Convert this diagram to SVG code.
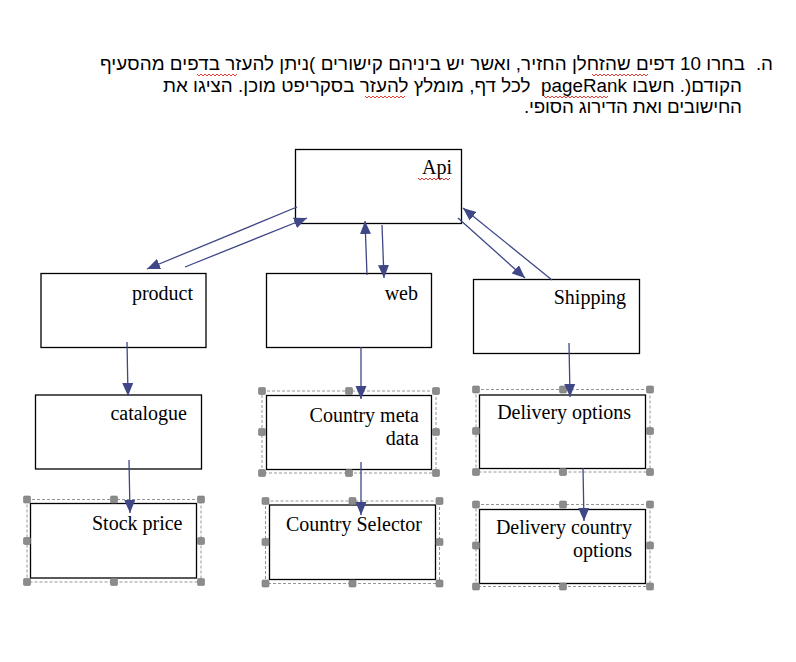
<svg xmlns="http://www.w3.org/2000/svg" width="796" height="662" viewBox="0 0 796 662">
<defs>
<style>
.heb{font-family:"Liberation Sans",Arial,sans-serif;font-size:18.8px;fill:#000;}
.lbl{font-family:"Liberation Serif","Times New Roman",serif;font-size:20px;fill:#000;text-anchor:end;}
.box{fill:#fff;stroke:#000;stroke-width:1.3;}
.sel{fill:none;stroke:#8a8a8a;stroke-width:0.9;stroke-dasharray:3 2;}
.h{fill:#8c8c8c;stroke:#777;stroke-width:0.6;}
.conn line{stroke:#3f4787;stroke-width:1.3;marker-end:url(#ah);}
.sq{fill:none;stroke:#e0271f;stroke-width:0.9;}
</style>
<marker id="ah" markerUnits="userSpaceOnUse" markerWidth="14" markerHeight="12" viewBox="0 0 14 12" refX="13" refY="6" orient="auto">
<path d="M0,0.5 L13,6 L0,11.5 Z" fill="#3f4787"/>
</marker>
<symbol id="hd" overflow="visible"><rect class="h" x="-3.5" y="-3.5" width="7" height="7" rx="1.2"/></symbol>
</defs>

<g id="question">
<text class="heb" x="773" y="70" direction="rtl" text-anchor="start">ה.</text>
<text class="heb" x="745" y="70" direction="rtl" text-anchor="start" textLength="645" lengthAdjust="spacing">בחרו 10 דפים שהזחלן החזיר, ואשר יש ביניהם קישורים )ניתן להעזר בדפים מהסעיף</text>
<text class="heb" x="742" y="92" direction="rtl" text-anchor="start" style="white-space:pre" textLength="579" lengthAdjust="spacing">הקודם(. חשבו pageRank  לכל דף, מומלץ להעזר בסקריפט מוכן. הציגו את</text>
<text class="heb" x="742" y="113" direction="rtl" text-anchor="start" textLength="218" lengthAdjust="spacing">החישובים ואת הדירוג הסופי.</text>
<path class="sq" d="M592,74 l2,2 l2,-2 l2,2 l2,-2 l2,2 l2,-2 l2,2 l2,-2 l2,2 l2,-2 l2,2 l2,-2 l2,2 l2,-2 l2,2 l2,-2 l2,2 l2,-2 l2,2 l2,-2 l2,2 l2,-2 l2,2 l2,-2 l2,2 l2,-2 l2,2 l2,-2"/>
<path class="sq" d="M197,74 l2,2 l2,-2 l2,2 l2,-2 l2,2 l2,-2 l2,2 l2,-2 l2,2 l2,-2 l2,2 l2,-2 l2,2 l2,-2 l2,2 l2,-2 l2,2 l2,-2 l2,2 l2,-2"/>
<path class="sq" d="M365,96 l2,2 l2,-2 l2,2 l2,-2 l2,2 l2,-2 l2,2 l2,-2 l2,2 l2,-2 l2,2 l2,-2 l2,2 l2,-2 l2,2 l2,-2 l2,2 l2,-2 l2,2 l2,-2"/>
<path class="sq" d="M544,96 l2,2 l2,-2 l2,2 l2,-2 l2,2 l2,-2 l2,2 l2,-2 l2,2 l2,-2 l2,2 l2,-2 l2,2 l2,-2 l2,2 l2,-2 l2,2 l2,-2 l2,2 l2,-2 l2,2 l2,-2 l2,2 l2,-2 l2,2 l2,-2 l2,2 l2,-2 l2,2 l2,-2 l2,2 l2,-2"/>
</g>

<g id="n-api">
<rect class="box" x="295.5" y="149.5" width="166" height="74"/>
<text class="lbl" x="452" y="174">Api</text>
<path class="sq" d="M418,178 l2,2 l2,-2 l2,2 l2,-2 l2,2 l2,-2 l2,2 l2,-2 l2,2 l2,-2 l2,2 l2,-2 l2,2 l2,-2 l2,2 l2,-2"/>
</g>
<g id="n-product">
<rect class="box" x="41" y="273.5" width="165" height="74"/>
<text class="lbl" x="193" y="300">product</text>
</g>
<g id="n-web">
<rect class="box" x="266.5" y="273.5" width="165" height="74"/>
<text class="lbl" x="418" y="300">web</text>
</g>
<g id="n-shipping">
<rect class="box" x="473.5" y="279.5" width="166" height="74"/>
<text class="lbl" x="626" y="304">Shipping</text>
</g>
<g id="n-catalogue">
<rect class="box" x="35.5" y="395" width="166" height="74"/>
<text class="lbl" x="187" y="420">catalogue</text>
</g>
<g id="n-countrymeta">
<rect class="sel" x="262" y="391" width="174" height="82"/>
<rect class="box" x="266.5" y="395.5" width="165" height="74"/>
<text class="lbl" x="419" y="421.5">Country meta</text>
<text class="lbl" x="419" y="444.5">data</text>
<use href="#hd" x="262" y="391"/><use href="#hd" x="349" y="391"/><use href="#hd" x="436" y="391"/>
<use href="#hd" x="262" y="432"/><use href="#hd" x="436" y="432"/>
<use href="#hd" x="262" y="473"/><use href="#hd" x="349" y="473"/><use href="#hd" x="436" y="473"/>
</g>
<g id="n-deliveryoptions">
<rect class="sel" x="476" y="389.5" width="174" height="82.5"/>
<rect class="box" x="479.5" y="395" width="166" height="73.5"/>
<text class="lbl" x="631" y="418.5">Delivery options</text>
<use href="#hd" x="476" y="389.5"/><use href="#hd" x="563" y="389.5"/><use href="#hd" x="650" y="389.5"/>
<use href="#hd" x="476" y="431"/><use href="#hd" x="650" y="431"/>
<use href="#hd" x="476" y="472"/><use href="#hd" x="563" y="472"/><use href="#hd" x="650" y="472"/>
</g>
<g id="n-stockprice">
<rect class="sel" x="27" y="499.5" width="174" height="82.5"/>
<rect class="box" x="30.5" y="503.5" width="166" height="74.5"/>
<text class="lbl" x="182.5" y="530">Stock price</text>
<use href="#hd" x="27" y="499.5"/><use href="#hd" x="114" y="499.5"/><use href="#hd" x="201" y="499.5"/>
<use href="#hd" x="27" y="541"/><use href="#hd" x="201" y="541"/>
<use href="#hd" x="27" y="582"/><use href="#hd" x="114" y="582"/><use href="#hd" x="201" y="582"/>
</g>
<g id="n-countryselector">
<rect class="sel" x="265.5" y="501" width="174" height="82.5"/>
<rect class="box" x="269.5" y="505" width="166" height="74.5"/>
<text class="lbl" x="422" y="531">Country Selector</text>
<use href="#hd" x="265.5" y="501"/><use href="#hd" x="352.5" y="501"/><use href="#hd" x="439.5" y="501"/>
<use href="#hd" x="265.5" y="542"/><use href="#hd" x="439.5" y="542"/>
<use href="#hd" x="265.5" y="583.5"/><use href="#hd" x="352.5" y="583.5"/><use href="#hd" x="439.5" y="583.5"/>
</g>
<g id="n-deliverycountry">
<rect class="sel" x="476" y="504.5" width="174" height="82"/>
<rect class="box" x="479.5" y="509.5" width="166" height="74"/>
<text class="lbl" x="632" y="534">Delivery country</text>
<text class="lbl" x="632" y="557">options</text>
<use href="#hd" x="476" y="504.5"/><use href="#hd" x="563" y="504.5"/><use href="#hd" x="650" y="504.5"/>
<use href="#hd" x="476" y="545.5"/><use href="#hd" x="650" y="545.5"/>
<use href="#hd" x="476" y="586.5"/><use href="#hd" x="563" y="586.5"/><use href="#hd" x="650" y="586.5"/>
</g>

<g id="connectors" class="conn">
<line x1="297" y1="207" x2="147" y2="269"/>
<line x1="185" y1="267" x2="307" y2="218"/>
<line x1="367" y1="275" x2="365" y2="221"/>
<line x1="382" y1="225" x2="384" y2="278"/>
<line x1="458" y1="218" x2="525" y2="278"/>
<line x1="552" y1="280" x2="463" y2="208"/>
<line x1="127" y1="342" x2="128" y2="396"/>
<line x1="361" y1="347" x2="361" y2="399"/>
<line x1="569" y1="343" x2="570" y2="397"/>
<line x1="129" y1="460" x2="130" y2="513"/>
<line x1="361" y1="462" x2="361" y2="515"/>
<line x1="583" y1="468" x2="584" y2="521"/>
</g>
</svg>
